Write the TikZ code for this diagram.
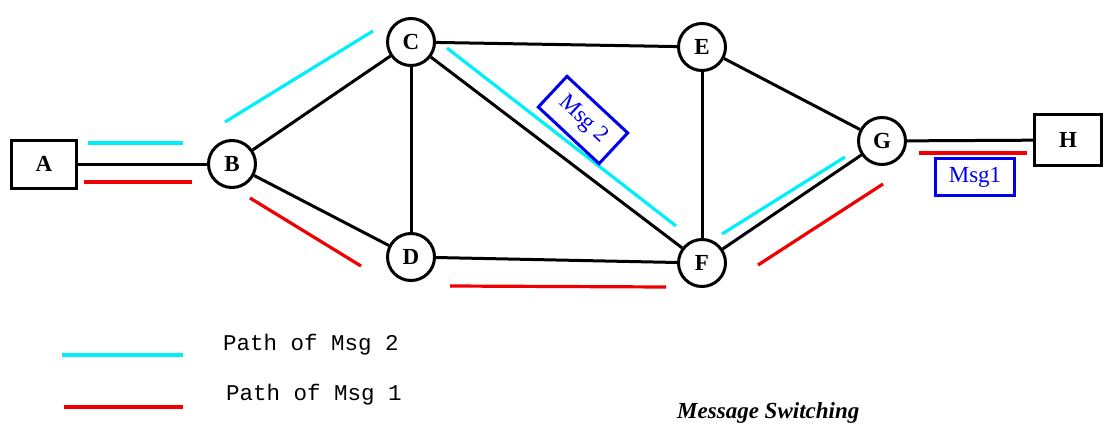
\documentclass[tikz,border=0pt]{standalone}
\usepackage{fontspec}
\setmainfont{Liberation Serif}
\newfontfamily\legendfont{Liberation Mono}
\definecolor{pathcyan}{RGB}{0,240,250}
\definecolor{pathred}{RGB}{240,0,0}
\definecolor{boxblue}{RGB}{0,0,235}
\begin{document}
\begin{tikzpicture}[x=1pt,y=-1pt,
  router/.style={draw, line width=3pt, circle, minimum size=47pt, inner sep=0pt,
    font=\fontsize{23}{23}\selectfont\bfseries},
  hostbox/.style={draw, line width=3pt, rectangle, minimum width=65pt, minimum height=48pt,
    inner sep=0pt, font=\fontsize{23}{23}\selectfont\bfseries},
  link/.style={line width=3pt},
  msg2path/.style={line width=3.2pt, color=pathcyan},
  msg1path/.style={line width=3.2pt, color=pathred},
  msgbox/.style={draw=boxblue, line width=3pt, text=boxblue, inner sep=0pt,
    font=\fontsize{23}{23}\selectfont}]
\useasboundingbox (0,0) rectangle (1115,425);

% hosts and switching nodes
\node[hostbox] (A) at (44,164) {A};
\node[hostbox, minimum width=67pt, minimum height=50pt] (H) at (1068,140) {H};
\node[router] (B) at (232,164) {B};
\node[router] (C) at (411,42) {C};
\node[router] (D) at (411,257) {D};
\node[router] (E) at (702,47) {E};
\node[router] (F) at (702,263) {F};
\node[router] (G) at (882,141) {G};

% links
\draw[link] (A) -- (B);
\draw[link] (B) -- (C);
\draw[link] (B) -- (D);
\draw[link] (C) -- (D);
\draw[link] (C) -- (E);
\draw[link] (C) -- (F);
\draw[link] (D) -- (F);
\draw[link] (E) -- (F);
\draw[link] (E) -- (G);
\draw[link] (F) -- (G);
\draw[link] (G) -- (H);

% route taken by message 2
\draw[msg2path] (88,143) -- (183,143);
\draw[msg2path] (225,122) -- (373,31);
\draw[msg2path] (447,48) -- (676,226);
\draw[msg2path] (722,234) -- (845,157);

% route taken by message 1
\draw[msg1path] (84,182) -- (192,182);
\draw[msg1path] (250,198) -- (361,266);
\draw[msg1path] (450,286) -- (666,287);
\draw[msg1path] (758,265) -- (883,184);
\draw[msg1path] (919,153) -- (1027,153);

% messages in transit
\node[msgbox, minimum width=83pt, minimum height=42pt, rotate=-43] (m2) at (583,120) {Msg 2};
\node[msgbox, minimum width=79pt, minimum height=37pt] (m1) at (975,177) {Msg1};

% legend
\draw[msg2path] (62,355) coordinate (l2a) -- (183,355) coordinate (l2b);
\draw[msg1path] (64,407) coordinate (l1a) -- (183,407) coordinate (l1b);
\node[anchor=base west, inner sep=0pt, font=\legendfont\fontsize{22.5}{22.5}\selectfont] (t2) at (223,350) {Path of Msg 2};
\node[anchor=base west, inner sep=0pt, font=\legendfont\fontsize{22.5}{22.5}\selectfont] (t1) at (226,400) {Path of Msg 1};

\node[anchor=base west, inner sep=0pt, font=\fontsize{23}{23}\selectfont\bfseries\itshape] (title) at (677,418) {Message Switching};
\end{tikzpicture}
\end{document}
